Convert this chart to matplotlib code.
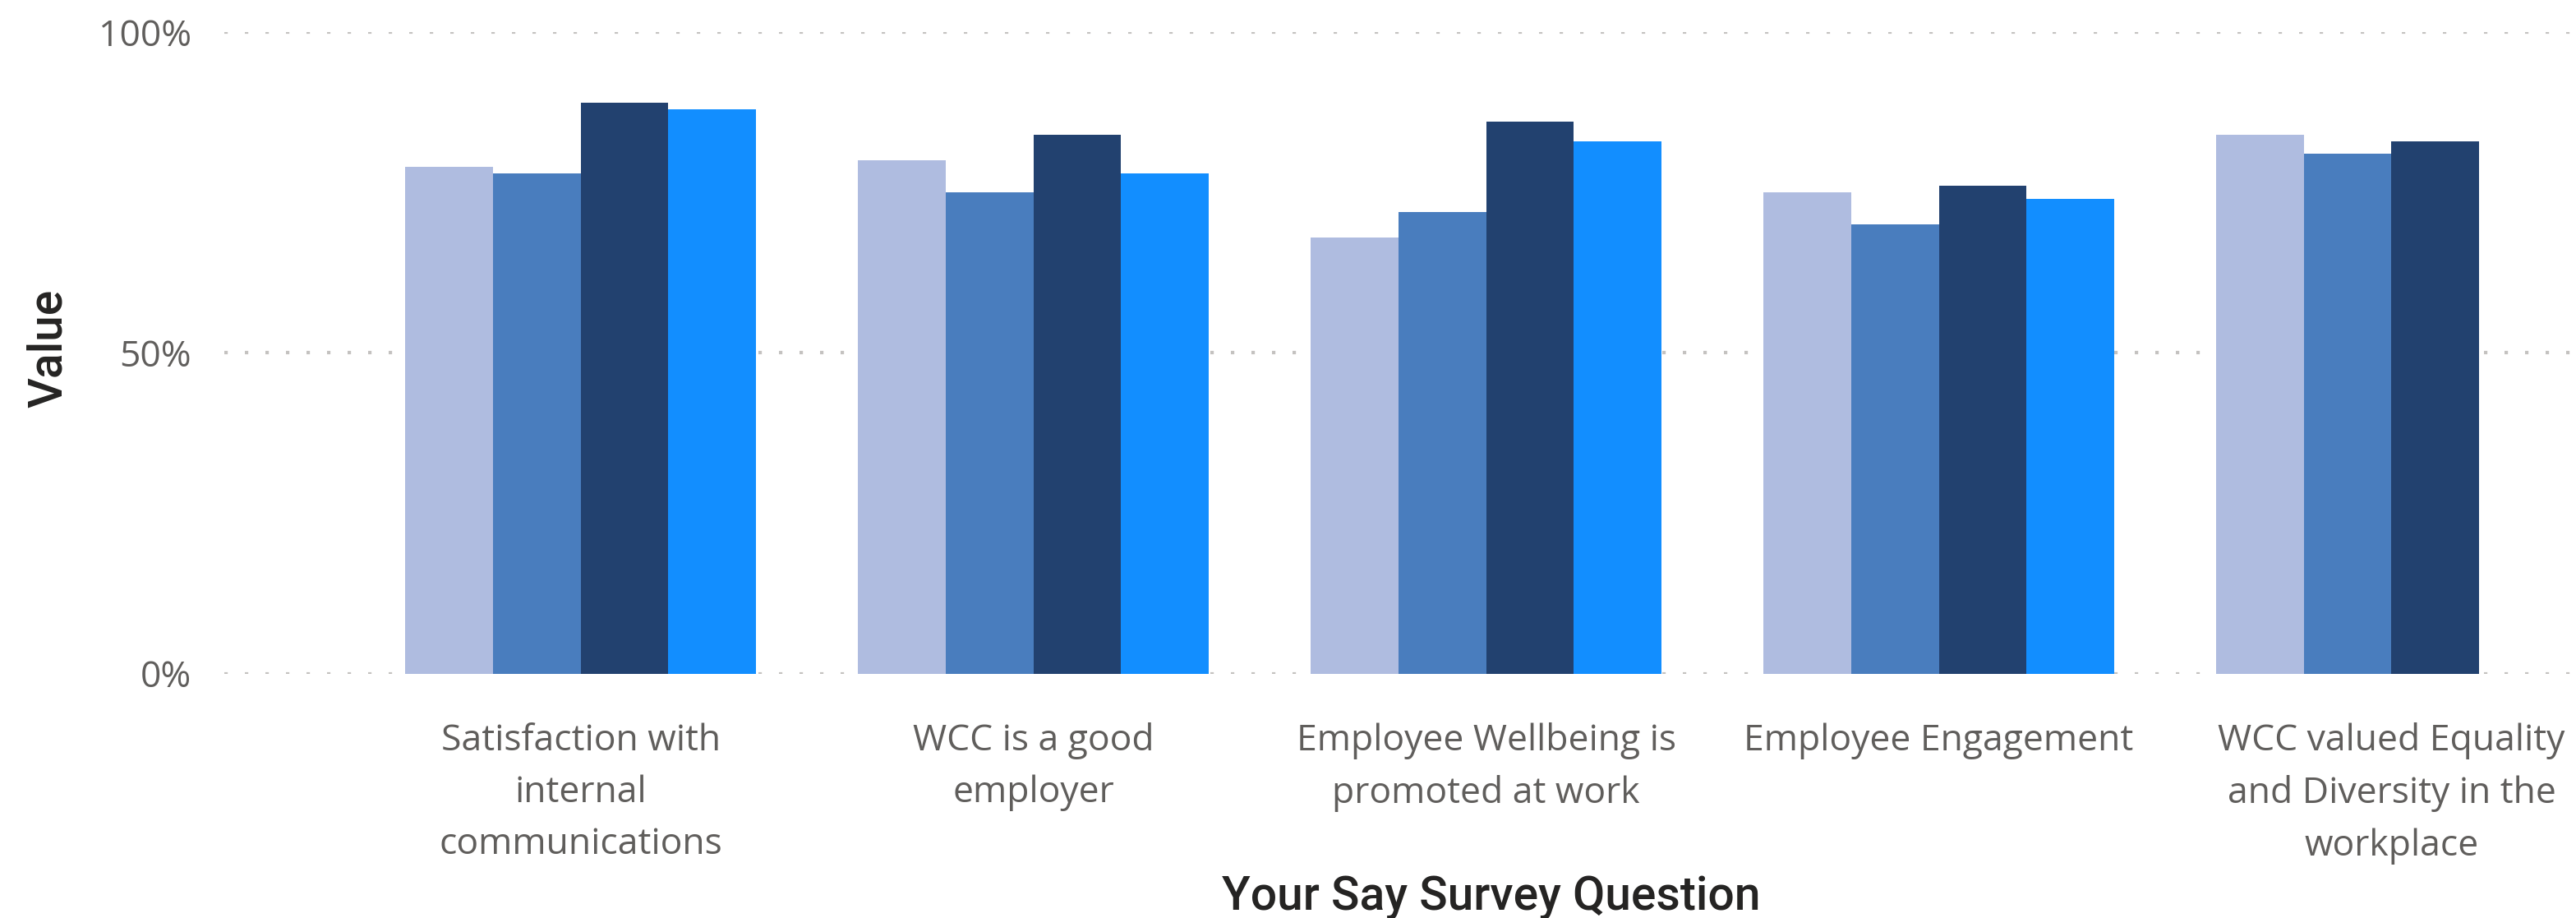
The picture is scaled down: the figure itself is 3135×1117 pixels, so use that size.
import matplotlib
matplotlib.use("Agg")
import matplotlib.pyplot as plt
from matplotlib.ticker import FuncFormatter

# Survey questions (x categories) and the share of positive answers per series
questions = [
    "Satisfaction with\ninternal\ncommunications",
    "WCC is a good\nemployer",
    "Employee Wellbeing is\npromoted at work",
    "Employee Engagement",
    "WCC valued Equality\nand Diversity in the\nworkplace",
]
series_a = [79, 80, 68, 75, 84]
series_b = [78, 75, 72, 70, 81]
series_c = [89, 84, 86, 76, 83]
series_d = [88, 78, 83, 74, None]

y_ticks = [0, 50, 100]

SERIES = [series_a, series_b, series_c, series_d]
COLORS = ["#AFBCE0", "#497DBE", "#22416F", "#128EFF"]

W, H, DPI = 3135, 1117, 100
fig = plt.figure(figsize=(W / DPI, H / DPI), dpi=DPI)

# plot area in pixels: left edge 273, 0% at y=819.5, 100% at y=39
ax_left, ax_right = 273, W
ax_bottom, ax_top = 819.5, 39
ax = fig.add_axes([ax_left / W, (H - ax_bottom) / H,
                   (ax_right - ax_left) / W, (ax_bottom - ax_top) / H])

bar_w = 0.194
n = len(SERIES)
for i, (vals, color) in enumerate(zip(SERIES, COLORS)):
    offset = (i - (n - 1) / 2) * bar_w
    xs = [k + offset for k, v in enumerate(vals) if v is not None]
    hs = [v for v in vals if v is not None]
    ax.bar(xs, hs, width=bar_w, color=color, linewidth=0, zorder=2)

ax.set_xlim(-0.787, 4.4075)
ax.set_ylim(0, 100)

ax.set_yticks(y_ticks)
ax.yaxis.set_major_formatter(FuncFormatter(lambda v, _: f"{v:.0f}%"))
ax.set_xticks(range(len(questions)))
ax.set_xticklabels(questions, linespacing=1.56)

tick_font = dict(family=["Open Sans", "DejaVu Sans"], size=32)
for lbl in ax.get_xticklabels() + ax.get_yticklabels():
    lbl.set_fontfamily(tick_font["family"])
    lbl.set_fontsize(tick_font["size"])
    lbl.set_color("#605E5C")

ax.tick_params(axis="x", length=0, pad=43)
ax.tick_params(axis="y", length=0, pad=29)

# dotted horizontal gridlines behind the bars
ax.set_axisbelow(True)
ax.yaxis.grid(True, color="#C4C2C0", linewidth=3.0,
              linestyle=(0, (1, 5.0)), dash_capstyle="butt")
ax.xaxis.grid(False)
for side in ax.spines.values():
    side.set_visible(False)

title_font = dict(family=["Roboto", "DejaVu Sans"], weight="medium",
                  size=41, color="#252423")
fig.text(1815 / W, (H - 1107) / H, "Your Say Survey Question",
         ha="center", va="baseline", **title_font)
fig.text(59 / W, (H - 424) / H, "Value", rotation=90,
         ha="center", va="center", **title_font)

fig.savefig("out.png", dpi=DPI)
